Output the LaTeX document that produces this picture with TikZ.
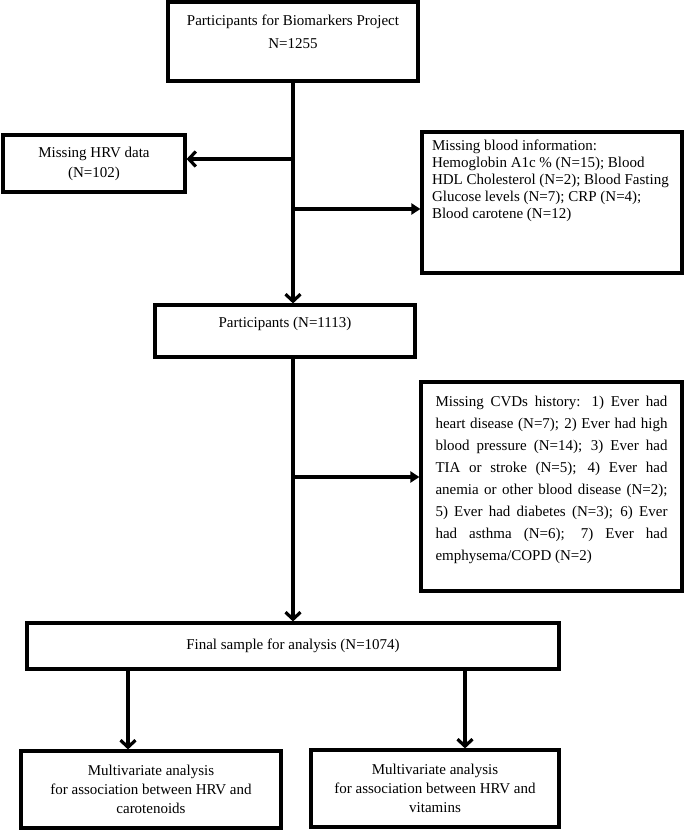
\documentclass[tikz,border=0pt]{standalone}
\usepackage{fontspec}
\setmainfont{Liberation Serif}
\usetikzlibrary{arrows.meta}
\hfuzz=20pt
\hbadness=10000

\begin{document}
\begin{tikzpicture}[x=1pt, y=-1pt,
  every node/.style={font=\fontsize{15}{17}\selectfont},
  box/.style={draw, shape=rectangle, line width=3.2pt, inner sep=0pt, align=center},
  down/.style={-{Straight Barb[length=7pt,width=15pt]}, line width=3.2pt},
  side/.style={-{Triangle[length=9pt,width=11pt]}, line width=3.2pt}]
  \useasboundingbox (0,0) rectangle (685,832);
  \node (top) [box] at (293,41.5) {\parbox[c][79pt][t]{250pt}{\centering\fontsize{15}{23}\selectfont\vspace*{13pt}Participants for Biomarkers Project\\N=1255}};
  \node (hrv) [box, minimum width=182pt, minimum height=57pt, font=\fontsize{15}{20}\selectfont] at (94,163.5) {Missing HRV data\\(N=102)};
  \node (blood) [box, inner xsep=10pt] at (552,202.5) {\parbox[c][141pt][t]{240pt}{\raggedright\vspace*{7.5pt}Missing blood information:\\Hemoglobin A1c \% (N=15); Blood\\HDL Cholesterol (N=2); Blood Fasting\\Glucose levels (N=7); CRP (N=4);\\Blood carotene (N=12)}};
  \node (part) [box] at (285,331) {\parbox[c][52pt][t]{260pt}{\centering\vspace*{12.5pt}Participants (N=1113)}};
  \node (cvd) [box, inner xsep=14.5pt] at (551.5,486.5) {\parbox[c][209pt][t]{232pt}{\fontsize{15}{22}\selectfont\vspace*{14.5pt}Missing CVDs history: 1) Ever had\linebreak heart disease (N=7); 2) Ever had high\linebreak blood pressure (N=14); 3) Ever had\linebreak TIA or stroke (N=5); 4) Ever had\linebreak anemia or other blood disease (N=2);\linebreak 5) Ever had diabetes (N=3); 6) Ever\linebreak had asthma (N=6); 7) Ever had\linebreak emphysema/COPD (N=2)}};
  \node (final) [box, minimum width=532pt, minimum height=46pt] at (293,646) {Final sample for analysis (N=1074)};
  \node (res1) [box, minimum width=260pt, minimum height=77pt, font=\fontsize{15}{19}\selectfont] at (151,789.5) {Multivariate analysis\\for association between HRV and\\carotenoids};
  \node (res2) [box, minimum width=248pt, minimum height=77pt, font=\fontsize{15}{19}\selectfont] at (435,788.5) {Multivariate analysis\\for association between HRV and\\vitamins};
  \coordinate (j1) at (293,159);
  \coordinate (j2) at (293,209);
  \coordinate (j3) at (293,477);
  \coordinate (s1) at (128,669);
  \coordinate (s2) at (465,669);
  \draw[down] (top.south) -- (top.south |- part.north);
  \draw[down] (j1) -- (j1 -| hrv.east);
  \draw[side] (j2) -- (j2 -| blood.west);
  \draw[down] (part.south -| top.south) -- (final.north -| top.south);
  \draw[side] (j3) -- (j3 -| cvd.west);
  \draw[down] (s1) -- (s1 |- res1.north);
  \draw[down] (s2) -- (s2 |- res2.north);
\end{tikzpicture}
\end{document}
